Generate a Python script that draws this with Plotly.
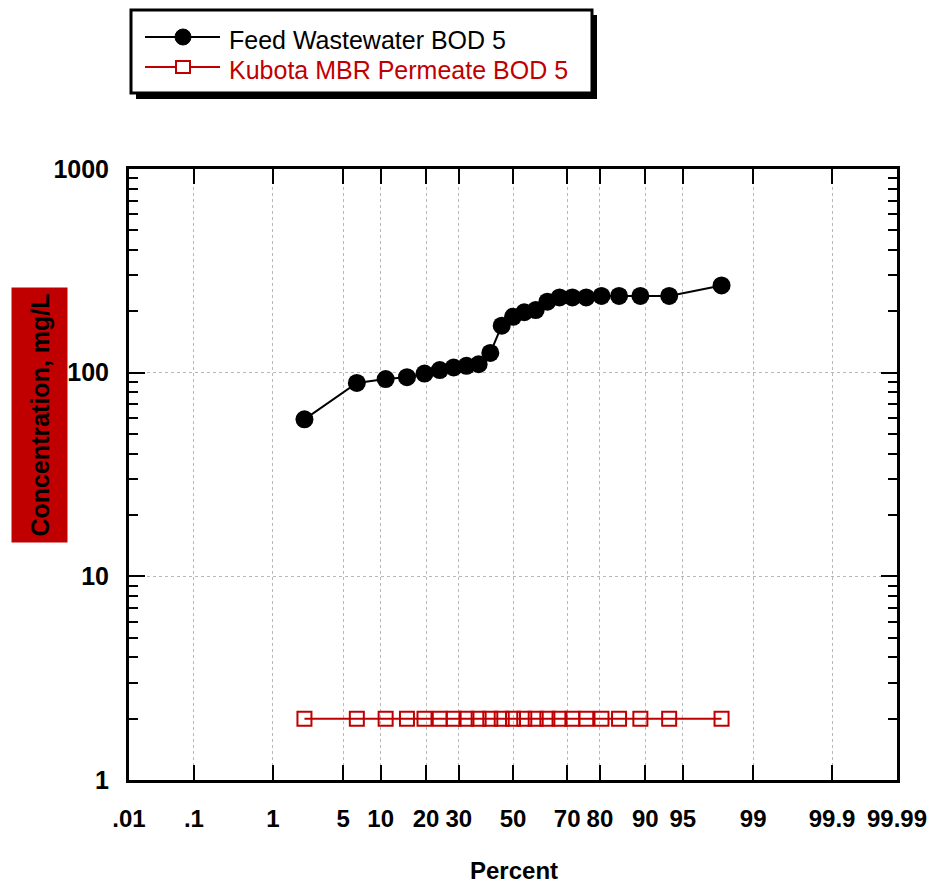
import plotly.graph_objects as go
from statistics import NormalDist

# Cumulative probability (%) of each ranked sample
feed_pct = [2.17, 6.52, 10.87, 15.22, 19.57, 23.91, 28.26, 32.61, 36.96, 41.30, 45.65, 50.00,
            54.35, 58.70, 63.04, 67.39, 71.74, 76.09, 80.43, 84.78, 89.13, 93.48, 97.83]
feed_bod = [59, 89, 93, 95, 99, 103, 106, 108, 110, 125, 170, 188,
            198, 203, 223, 234, 234, 234, 238, 238, 238, 238, 268]

perm_pct = [2.17, 6.52, 10.87, 15.22, 19.57, 23.91, 28.26, 32.61, 36.96, 41.30, 45.65, 50.00,
            54.35, 58.70, 63.04, 67.39, 71.74, 76.09, 80.43, 84.78, 89.13, 93.48, 97.83]
perm_bod = [2, 2, 2, 2, 2, 2, 2, 2, 2, 2, 2, 2,
            2, 2, 2, 2, 2, 2, 2, 2, 2, 2, 2]

# Probability-axis ticks
prob_ticks = [0.01, 0.1, 1, 5, 10, 20, 30, 50, 70, 80, 90, 95, 99, 99.9, 99.99]
prob_labels = [".01", ".1", "1", "5", "10", "20", "30", "50", "70", "80", "90", "95", "99", "99.9", "99.99"]
conc_ticks = [1, 10, 100, 1000]
conc_labels = ["1", "10", "100", "1000"]

RED = "#c00000"
nd = NormalDist()


def z(p):
    """Normal-probability scale: percent -> standard normal quantile."""
    return nd.inv_cdf(p / 100.0)


fig = go.Figure()

fig.add_trace(go.Scatter(
    x=[z(p) for p in feed_pct], y=feed_bod, mode="lines+markers",
    name="Feed Wastewater BOD 5",
    line=dict(color="black", width=2),
    marker=dict(symbol="circle", size=18, color="black"),
    showlegend=False, cliponaxis=False,
))
fig.add_trace(go.Scatter(
    x=[z(p) for p in perm_pct], y=perm_bod, mode="lines+markers",
    name="Kubota MBR Permeate BOD 5",
    line=dict(color=RED, width=2),
    marker=dict(symbol="square-open", size=14, color=RED, line=dict(width=2, color=RED)),
    showlegend=False, cliponaxis=False,
))

tick_font = dict(family="Arial", size=25, color="black", weight="bold")

fig.update_xaxes(
    range=[z(0.01), z(99.99)],
    tickvals=[z(p) for p in prob_ticks], ticktext=prob_labels,
    ticks="inside", ticklen=15, tickwidth=2, tickcolor="black",
    showline=True, linewidth=3, linecolor="black", mirror="ticks",
    showgrid=True, gridcolor="#b8b8b8", griddash="dot", gridwidth=1,
    zeroline=False, tickfont=dict(tick_font, size=24), ticklabelstandoff=15,
    automargin=False,
)

minor_vals = [m * d for d in (1, 10, 100) for m in range(2, 10)]
fig.update_yaxes(
    type="log", range=[0, 3],
    tickvals=conc_ticks, ticktext=conc_labels,
    ticks="inside", ticklen=16, tickwidth=2, tickcolor="black",
    showline=True, linewidth=3, linecolor="black", mirror="ticks",
    showgrid=True, gridcolor="#b8b8b8", griddash="dot", gridwidth=1,
    zeroline=False, tickfont=tick_font, ticklabelstandoff=12,
    minor=dict(tickvals=minor_vals, ticks="inside", ticklen=9, tickwidth=2,
               tickcolor="black", showgrid=False),
    automargin=False,
)

# Plot-area geometry in pixels, used to place the legend and titles
L, R, T, B = 129, 897, 169, 780
W, H = R - L, B - T


def px(xp):
    return (xp - L) / W


def py(yp):
    return (B - yp) / H


shapes = []
annotations = []

# Legend box with drop shadow
shapes.append(dict(type="rect", xref="paper", yref="paper",
                   x0=px(136), x1=px(597), y0=py(15), y1=py(99),
                   fillcolor="black", line=dict(width=0), layer="above"))
shapes.append(dict(type="rect", xref="paper", yref="paper",
                   x0=px(131), x1=px(592), y0=py(10), y1=py(93),
                   fillcolor="white", line=dict(color="black", width=3), layer="above"))

legend_rows = [("Feed Wastewater BOD 5", "black", 37, "circle"),
               ("Kubota MBR Permeate BOD 5", RED, 67, "square")]
for label, color, yrow, sym in legend_rows:
    shapes.append(dict(type="line", xref="paper", yref="paper",
                       x0=px(145), x1=px(220), y0=py(yrow), y1=py(yrow),
                       line=dict(color=color, width=2), layer="above"))
    if sym == "circle":
        shapes.append(dict(type="circle", xref="paper", yref="paper",
                           xsizemode="pixel", ysizemode="pixel",
                           xanchor=px(183), yanchor=py(yrow),
                           x0=-8, x1=8, y0=-8, y1=8,
                           fillcolor="black", line=dict(color="black", width=1),
                           layer="above"))
    else:
        shapes.append(dict(type="rect", xref="paper", yref="paper",
                           xsizemode="pixel", ysizemode="pixel",
                           xanchor=px(183), yanchor=py(yrow),
                           x0=-7, x1=7, y0=-6, y1=6,
                           fillcolor="white", line=dict(color=color, width=2),
                           layer="above"))
    annotations.append(dict(xref="paper", yref="paper", x=px(227), y=py(yrow + 3),
                            xanchor="left", yanchor="middle", showarrow=False,
                            text=label, font=dict(family="Arial", size=25, color=color)))

# Axis titles
annotations.append(dict(xref="paper", yref="paper", x=px(514), y=py(870),
                        xanchor="center", yanchor="middle", showarrow=False,
                        text="Percent",
                        font=dict(family="Arial", size=24, color="black", weight="bold")))
annotations.append(dict(xref="paper", yref="paper", x=px(39), y=py(415),
                        xanchor="center", yanchor="middle", showarrow=False,
                        text="Concentration, mg/L", textangle=-90,
                        width=252, height=53, bgcolor=RED,
                        font=dict(family="Arial", size=25, color="black", weight="bold")))

fig.update_layout(
    width=928, height=883,
    margin=dict(l=L, r=928 - R, t=T, b=883 - B, autoexpand=False),
    paper_bgcolor="white", plot_bgcolor="white",
    shapes=shapes, annotations=annotations,
    showlegend=False,
)

fig.write_html("out.html")
